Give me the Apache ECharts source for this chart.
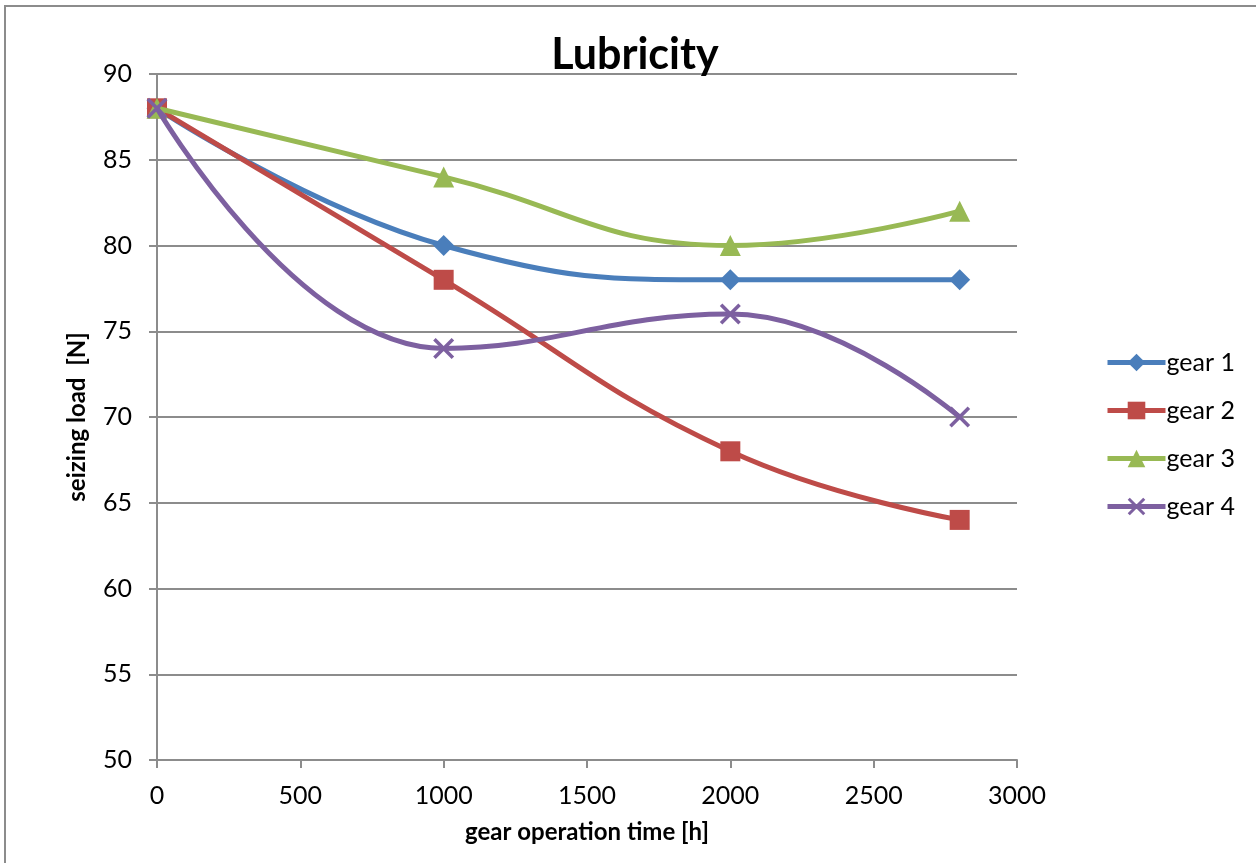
<!DOCTYPE html>
<html>
<head>
<meta charset="utf-8">
<script src="https://cdn.jsdelivr.net/npm/echarts@6/dist/echarts.min.js"></script>
<style>
  html, body { margin: 0; padding: 0; background: #fff; }
  #chart { width: 1256px; height: 863px; }
</style>
</head>
<body>
<div id="chart"></div>
<script>
// Operating hours at which each gear was tested
const hours = [0, 1000, 2000, 2800];

// Seizing load [N] per gear
const gear1 = [88, 80, 78, 78];
const gear2 = [88, 78, 68, 64];
const gear3 = [88, 84, 80, 82];
const gear4 = [88, 74, 76, 70];

const seriesNames = ['gear 1', 'gear 2', 'gear 3', 'gear 4'];
const seriesData = [gear1, gear2, gear3, gear4];
const colors = ['#4A7EBB', '#BE4B48', '#98B954', '#7D60A0'];
const crossPath = 'path://M0,1.2L1.2,0L10,8.8L8.8,10Z M8.8,0L10,1.2L1.2,10L0,8.8Z';
const symbols = ['diamond', 'rect', 'triangle', crossPath];
const symbolSizes = [21, 20, 21, 21];

const font = 'Lato, "Open Sans", "DejaVu Sans", sans-serif';

const chart = echarts.init(document.getElementById('chart'), null, { renderer: 'canvas' });

const series = seriesNames.map((name, i) => ({
  name: name,
  type: 'line',
  data: hours.map((h, k) => [h, seriesData[i][k]]),
  smooth: 0.45,
  symbol: symbols[i],
  symbolSize: symbolSizes[i],
  showAllSymbol: true,
  lineStyle: { width: 5, color: colors[i] },
  itemStyle: { color: colors[i] },
  z: 3 + i
}));

chart.setOption({
  animation: false,
  backgroundColor: '#ffffff',
  textStyle: { fontFamily: font },
  title: {
    text: 'Lubricity',
    left: 630,
    top: 29,
    textAlign: 'center',
    textStyle: { fontSize: 43, fontWeight: 'bold', color: '#000', fontFamily: font }
  },
  graphic: [{
    type: 'rect',
    shape: { x: 5, y: 6, width: 1300, height: 900 },
    style: { fill: 'none', stroke: '#8c8c8c', lineWidth: 2 },
    silent: true,
    z: 0
  }],
  legend: {
    orient: 'vertical',
    left: 1105,
    top: 350,
    padding: 0,
    itemGap: 23,
    itemWidth: 58,
    itemHeight: 22,
    lineStyle: { width: 5 },
    textStyle: { fontSize: 25, lineHeight: 25, color: '#000', fontFamily: font, padding: [0, 0, 0, -4] },
    data: seriesNames
  },
  grid: {
    left: 157,
    right: 239,
    top: 74,
    bottom: 103,
    containLabel: false
  },
  xAxis: {
    type: 'value',
    min: 0,
    max: 3000,
    interval: 500,
    name: 'gear operation time [h]',
    nameLocation: 'middle',
    nameGap: 60,
    nameTextStyle: { fontSize: 24, fontWeight: 'bold', color: '#000', fontFamily: font },
    axisLine: { show: true, onZero: false, lineStyle: { color: '#8c8c8c', width: 2 } },
    axisTick: { show: true, inside: false, length: 8, lineStyle: { color: '#8c8c8c', width: 2 } },
    axisLabel: { fontSize: 25, color: '#000', margin: 23, fontFamily: font, formatter: v => String(v) },
    splitLine: { show: false }
  },
  yAxis: {
    type: 'value',
    min: 50,
    max: 90,
    interval: 5,
    name: 'seizing load  [N]',
    nameLocation: 'middle',
    nameGap: 68,
    nameRotate: 90,
    nameTextStyle: { fontSize: 24, fontWeight: 'bold', color: '#000', fontFamily: font },
    axisLine: { show: true, lineStyle: { color: '#8c8c8c', width: 2 } },
    axisTick: { show: true, inside: false, length: 8, lineStyle: { color: '#8c8c8c', width: 2 } },
    axisLabel: { fontSize: 25, color: '#000', margin: 25, fontFamily: font },
    splitLine: { show: true, lineStyle: { color: '#8c8c8c', width: 2 } }
  },
  series: series
});
</script>
</body>
</html>
